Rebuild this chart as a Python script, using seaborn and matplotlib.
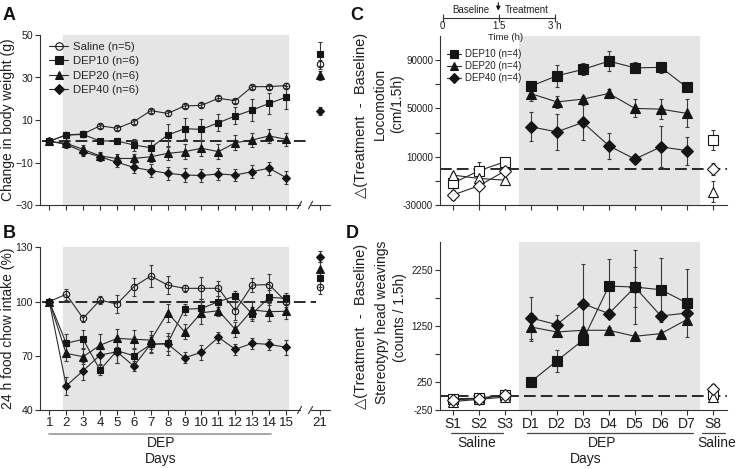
import numpy as np
import matplotlib
matplotlib.use("Agg")
import matplotlib.pyplot as plt
import seaborn as sns
from matplotlib.lines import Line2D

sns.set_style("ticks")
plt.rcParams["font.family"] = ["Liberation Sans", "DejaVu Sans"]

# --- dane A/B: dni podawania ---
days = [1, 2, 3, 4, 5, 6, 7, 8, 9, 10, 11, 12, 13, 14, 15]
late_day = 21
day_labels = ["1", "2", "3", "4", "5", "6", "7", "8", "9", "10", "11", "12", "13", "14", "15", "21"]
groups_ab = ["Saline (n=5)", "DEP10 (n=6)", "DEP20 (n=6)", "DEP40 (n=6)"]

# A: zmiana masy ciala (g)
bw_saline = [0, 3.0, 3.4, 7.3, 6.1, 9.2, 14.4, 13.1, 16.6, 16.9, 20.2, 19.1, 25.7, 25.7, 26.2]
bw_dep10 = [0, 2.9, 3.2, 0.1, 0.2, -1.8, -3.0, 2.9, 5.9, 5.6, 8.7, 11.9, 14.7, 17.8, 20.7]
bw_dep20 = [0, -1.0, -3.8, -6.9, -8.1, -8.1, -7.3, -5.7, -4.9, -3.3, -4.9, -0.7, 0.6, 2.5, 0.9]
bw_dep40 = [0, -1.5, -4.9, -7.3, -9.9, -12.3, -13.8, -15.1, -15.9, -16.1, -15.4, -15.9, -14.3, -12.7, -17.1]
bw_err_saline = [0, 0.8, 0.8, 1.0, 1.0, 1.0, 1.0, 1.0, 1.0, 1.0, 1.0, 1.0, 1.0, 1.0, 1.0]
bw_err_dep10 = [0, 1.0, 1.0, 1.0, 1.5, 3.0, 3.0, 5.0, 5.0, 5.0, 4.0, 4.0, 5.0, 5.0, 5.5]
bw_err_dep20 = [0, 1.5, 2.0, 2.0, 2.0, 2.0, 2.5, 3.0, 3.5, 3.5, 3.5, 3.5, 3.5, 3.5, 3.0]
bw_err_dep40 = [0, 1.5, 2.0, 2.0, 2.0, 2.5, 3.0, 3.0, 3.5, 3.0, 3.0, 3.0, 3.0, 3.0, 3.0]
bw_late = [36.2, 41.0, 31.0, 14.2]
bw_late_err = [2.0, 5.5, 2.0, 2.0]

# B: spozycie karmy (%)
fi_saline = [100, 104.0, 90.7, 100.8, 98.6, 108.2, 114.1, 109.1, 107.3, 107.3, 107.3, 94.9, 109.1, 109.4, 99.9]
fi_dep10 = [100, 76.9, 79.1, 62.1, 72.8, 70.0, 76.3, 76.9, 95.7, 96.2, 99.9, 103.0, 93.1, 102.3, 101.8]
fi_dep20 = [100, 71.3, 69.5, 75.8, 79.6, 79.1, 78.7, 93.8, 83.3, 93.8, 94.9, 84.6, 95.3, 94.4, 94.6]
fi_dep40 = [100, 53.4, 61.7, 70.4, 72.2, 64.3, 76.5, 76.5, 68.9, 71.9, 80.2, 73.6, 76.9, 76.3, 74.7]
fi_err_saline = [0, 3, 2, 2, 5, 5, 6, 5, 2, 6, 4, 5, 4, 6, 3]
fi_err_dep10 = [0, 5, 5, 3, 7, 4, 4, 4, 3, 5, 3, 3, 4, 4, 3]
fi_err_dep20 = [0, 4, 4, 6, 5, 5, 5, 5, 4, 6, 3, 4, 5, 5, 4]
fi_err_dep40 = [0, 5, 5, 5, 6, 3, 5, 6, 3, 4, 3, 3, 3, 3, 4]
fi_late = [108.2, 112.8, 117.8, 124.8]
fi_late_err = [4, 5, 4, 3]

# --- dane C/D: sesje ---
sessions = ["S1", "S2", "S3", "D1", "D2", "D3", "D4", "D5", "D6", "D7", "S8"]
groups_cd = ["DEP10 (n=4)", "DEP20 (n=4)", "DEP40 (n=4)"]

loc_dep10 = [-12000, -1700, 5800, 68400, 77000, 82300, 89200, 83600, 84000, 67400, 23800]
loc_dep20 = [-5200, -8000, -9400, 62300, 55400, 57700, 62400, 50000, 49400, 45900, -19000]
loc_dep40 = [-21800, -14100, -1900, 34800, 30600, 38400, 19100, 8000, 18200, 15000, -500]
loc_err10 = [4000, 3000, 3500, 3000, 9000, 5000, 8000, 4500, 4500, 1500, 8000]
loc_err20 = [2000, 2500, 2000, 6000, 5000, 3000, 4000, 7400, 8000, 11500, 8500]
loc_err40 = [4000, 20000, 3000, 12000, 15000, 14500, 10600, 1000, 17000, 11500, 5000]

st_dep10 = [-50, -40, 20, 252, 626, 993, 1959, 1942, 1894, 1657, 30]
st_dep20 = [-100, -60, -20, 1230, 1141, 1171, 1171, 1064, 1112, 1361, -20]
st_dep40 = [-70, -50, 10, 1390, 1272, 1645, 1468, 1940, 1426, 1479, 130]
st_err10 = [40, 30, 40, 90, 200, 60, 490, 660, 570, 610, 60]
st_err20 = [30, 30, 30, 250, 60, 60, 60, 40, 40, 60, 40]
st_err40 = [30, 30, 30, 370, 170, 700, 60, 355, 60, 60, 80]

# --- styl ---
MARK_C = "#151515"
LINE_C = "#2a2a2a"
ERR_C = "#3a3a3a"
AX_C = "#333333"
TXT_C = "#1e1e1e"
SHADE_C = "#e5e5e5"
W, H = 740, 469
BREAK_POS = 17  # pozycja dnia 21 za przerwa osi

def fx(px):
    return px / W

def fy(py):
    return 1 - py / H

def style_axis(ax, ysize=7.6, xsize=9.5):
    sns.despine(ax=ax)
    for s in ("left", "bottom"):
        ax.spines[s].set_color(AX_C)
        ax.spines[s].set_linewidth(0.8)
    ax.tick_params(direction="out", length=3.5, width=0.8, color=AX_C, labelcolor=TXT_C, pad=1.5)
    ax.tick_params(axis="y", labelsize=ysize)
    ax.tick_params(axis="x", labelsize=xsize)
    ax.set_facecolor("white")

def draw(ax, x, y, err, marker, ms, face, zo=3):
    ax.errorbar(x, y, yerr=err, fmt="none", ecolor=ERR_C, elinewidth=0.8,
                capsize=1.6, capthick=0.8, zorder=zo - 1)
    sns.lineplot(x=x, y=y, ax=ax, color=LINE_C, linewidth=0.8, marker=marker,
                 markersize=ms, markerfacecolor=face, markeredgecolor=MARK_C,
                 markeredgewidth=0.8, errorbar=None, sort=False, zorder=zo)

fig = plt.figure(figsize=(W / 100, H / 100), dpi=100)

ab_style = [("o", 4.6, "none"), ("s", 5.0, MARK_C), ("^", 5.4, MARK_C), ("D", 4.2, MARK_C)]
cd_style = [("s", 6.8, MARK_C), ("^", 6.8, MARK_C), ("D", 5.8, MARK_C)]

# ---------------- A / B ----------------
axA = fig.add_axes([fx(40), fy(205), fx(290), 170 / H])
axB = fig.add_axes([fx(40), fy(410), fx(290), 162.7 / H])

panels_ab = [
    (axA, [bw_saline, bw_dep10, bw_dep20, bw_dep40],
     [bw_err_saline, bw_err_dep10, bw_err_dep20, bw_err_dep40], bw_late, bw_late_err, 0, (-30, 50)),
    (axB, [fi_saline, fi_dep10, fi_dep20, fi_dep40],
     [fi_err_saline, fi_err_dep10, fi_err_dep20, fi_err_dep40], fi_late, fi_late_err, 100, (40, 130)),
]
for ax, series, errs, late, late_err, ref, ylim in panels_ab:
    ax.axvspan(1.8, 15.2, color=SHADE_C, lw=0, zorder=0)
    ax.hlines(ref, 0.55, 16.35 if ax is axA else 16.8, colors="#1a1a1a",
              linestyles=(0, (6.5, 2.8)), linewidth=1.3, zorder=1)
    for k, (vals, ev) in enumerate(zip(series, errs)):
        mk, ms, face = ab_style[k]
        draw(ax, np.array(days), np.array(vals), np.array(ev), mk, ms, face, zo=3 + k * 0.1)
        draw(ax, np.array([BREAK_POS]), np.array([late[k]]), np.array([late_err[k]]), mk, ms, face, zo=3 + k * 0.1)
    ax.set_xlim(0.45, 17.6)
    ax.set_ylim(*ylim)
    style_axis(ax)
    ax.set_xticks(days + [BREAK_POS])
    # przerwa osi X
    ax.spines["bottom"].set_bounds(0.45, 15.8)
    tr = ax.get_xaxis_transform()
    ax.plot([16.45, 17.6], [0, 0], color=AX_C, lw=0.8, transform=tr, clip_on=False)
    for bx in (15.8, 16.45):
        ax.plot([bx - 0.12, bx + 0.12], [-0.022, 0.022], color=AX_C, lw=0.8, transform=tr, clip_on=False)

axA.set_yticks([-30, -10, 10, 30, 50])
axA.set_xticklabels([])
axB.set_yticks([40, 70, 100, 130])
axB.set_xticklabels(day_labels)

handles = [Line2D([], [], color=LINE_C, lw=0.8, marker=m, ms=s + 0.8, mfc=f, mec=MARK_C, mew=0.8)
           for m, s, f in ab_style]
axA.legend(handles, groups_ab, loc="upper left", bbox_to_anchor=(0.015, 0.985), frameon=False,
           fontsize=8.2, handlelength=1.7, handletextpad=0.45, labelspacing=0.38, borderaxespad=0)

trB = axB.get_xaxis_transform()
axB.plot([1, 14.1], [-0.149, -0.149], color="#9a9a9a", lw=1.2, transform=trB, clip_on=False)
axB.text(7.6, -0.205, "DEP", transform=trB, ha="center", va="center", fontsize=10, color=TXT_C)
axB.text(7.6, -0.30, "Days", transform=trB, ha="center", va="center", fontsize=10, color=TXT_C)

fig.text(fx(8.5), fy(120), "Change in body weight (g)", rotation=90, ha="center", va="center",
         fontsize=10, color=TXT_C)
fig.text(fx(8.5), fy(328), "24 h food chow intake (%)", rotation=90, ha="center", va="center",
         fontsize=10, color=TXT_C)

# ---------------- C / D ----------------
axC = fig.add_axes([fx(440), fy(205), fx(287), 169 / H])
axD = fig.add_axes([fx(440), fy(410), fx(287), 168.3 / H])
pos = np.arange(len(sessions))
segments = [(slice(0, 3), "white"), (slice(3, 10), None), (slice(10, 11), "white")]

for ax, series, errs in [
    (axC, [loc_dep10, loc_dep20, loc_dep40], [loc_err10, loc_err20, loc_err40]),
    (axD, [st_dep10, st_dep20, st_dep40], [st_err10, st_err20, st_err40]),
]:
    ax.axvspan(2.55, 9.5, color=SHADE_C, lw=0, zorder=0)
    ax.axhline(0, color="#1a1a1a", linestyle=(0, (6.5, 2.8)), linewidth=1.3, zorder=1)
    for k, (vals, ev) in enumerate(zip(series, errs)):
        mk, ms, face = cd_style[k]
        vals = np.array(vals)
        ev = np.array(ev)
        for sl, open_face in segments:
            draw(ax, pos[sl], vals[sl], ev[sl], mk, ms, open_face or face, zo=3 + k * 0.1)
    ax.set_xlim(-0.49, 10.54)
    style_axis(ax, ysize=7, xsize=10)
    ax.set_xticks(pos)

axC.set_ylim(-30000, 110000)
axC.set_yticks([-30000, -10000, 10000, 30000, 50000, 70000, 90000])
axC.set_yticklabels(["-30000", "", "10000", "", "50000", "", "90000"])
axC.set_xticklabels([])
axD.set_ylim(-250, 2750)
axD.set_yticks([-250, 250, 750, 1250, 1750, 2250])
axD.set_yticklabels(["-250", "250", "", "1250", "", "2250"])
axD.set_xticklabels(sessions)

handlesC = [Line2D([], [], color=LINE_C, lw=0.8, marker=m, ms=s - 1.0, mfc=f, mec=MARK_C, mew=0.8)
            for m, s, f in cd_style]
axC.legend(handlesC, groups_cd, loc="upper left", bbox_to_anchor=(0.01, 0.945), frameon=False,
           fontsize=7, handlelength=1.5, handletextpad=0.35, labelspacing=0.2, borderaxespad=0)

trD = axD.get_xaxis_transform()
for x0, x1, lab, xc in [(-0.05, 1.95, "Saline", 0.92), (2.85, 9.25, "DEP", 5.74), (9.58, 10.47, "Saline", 10.15)]:
    axD.plot([x0, x1], [-0.135, -0.135], color="#444444", lw=0.9, transform=trD, clip_on=False)
    axD.text(xc, -0.196, lab, transform=trD, ha="center", va="center", fontsize=10, color=TXT_C)
axD.text(5.09, -0.291, "Days", transform=trD, ha="center", va="center", fontsize=10, color=TXT_C)

fig.text(fx(361), fy(115), "\u25b3(Treatment  -  Baseline)", rotation=90, ha="center", va="center",
         fontsize=10.5, color=TXT_C)
fig.text(fx(380), fy(104), "Locomotion", rotation=90, ha="center", va="center", fontsize=10, color=TXT_C)
fig.text(fx(397), fy(104), "(cm/1.5h)", rotation=90, ha="center", va="center", fontsize=10, color=TXT_C)
fig.text(fx(361), fy(326), "\u25b3(Treatment  -  Baseline)", rotation=90, ha="center", va="center",
         fontsize=10.5, color=TXT_C)
fig.text(fx(382), fy(322), "Stereotypy head weavings", rotation=90, ha="center", va="center",
         fontsize=10, color=TXT_C)
fig.text(fx(400), fy(318), "(counts / 1.5h)", rotation=90, ha="center", va="center", fontsize=10, color=TXT_C)

# linia czasu nad panelem C
axT = fig.add_axes([fx(442.7), fy(17.7), fx(112.3), 0.02])
axT.set_xlim(0, 3)
axT.set_ylim(0, 1)
axT.patch.set_alpha(0)
for s in ("left", "right", "top"):
    axT.spines[s].set_visible(False)
axT.spines["bottom"].set_color(AX_C)
axT.spines["bottom"].set_linewidth(0.8)
axT.set_yticks([])
axT.set_xticks([0, 1.5, 3])
axT.set_xticklabels(["0", "1.5", "3 h"], fontsize=7)
axT.tick_params(axis="x", direction="inout", length=6, width=0.8, color=AX_C, pad=-0.5, labelcolor=TXT_C)
axT.text(0.75, 0.25, "Baseline", ha="center", va="bottom", fontsize=7, color=TXT_C)
axT.text(2.25, 0.25, "Treatment", ha="center", va="bottom", fontsize=7, color=TXT_C)
fig.text(fx(506), fy(37), "Time (h)", ha="center", va="center", fontsize=6.8, color=TXT_C)
axT.annotate("", xy=(fx(498.3), fy(13.5)), xytext=(fx(498.3), fy(0)), xycoords="figure fraction",
             textcoords="figure fraction",
             arrowprops=dict(arrowstyle="-|>", color="#111111", lw=0.8, mutation_scale=6))

# litery paneli
for lab, px, py in [("A", 9, 15), ("B", 9, 233), ("C", 357, 15), ("D", 352, 233)]:
    fig.text(fx(px), fy(py), lab, ha="center", va="center", fontsize=13, fontweight="bold", color="#111111")

fig.savefig("out.png", dpi=100)
